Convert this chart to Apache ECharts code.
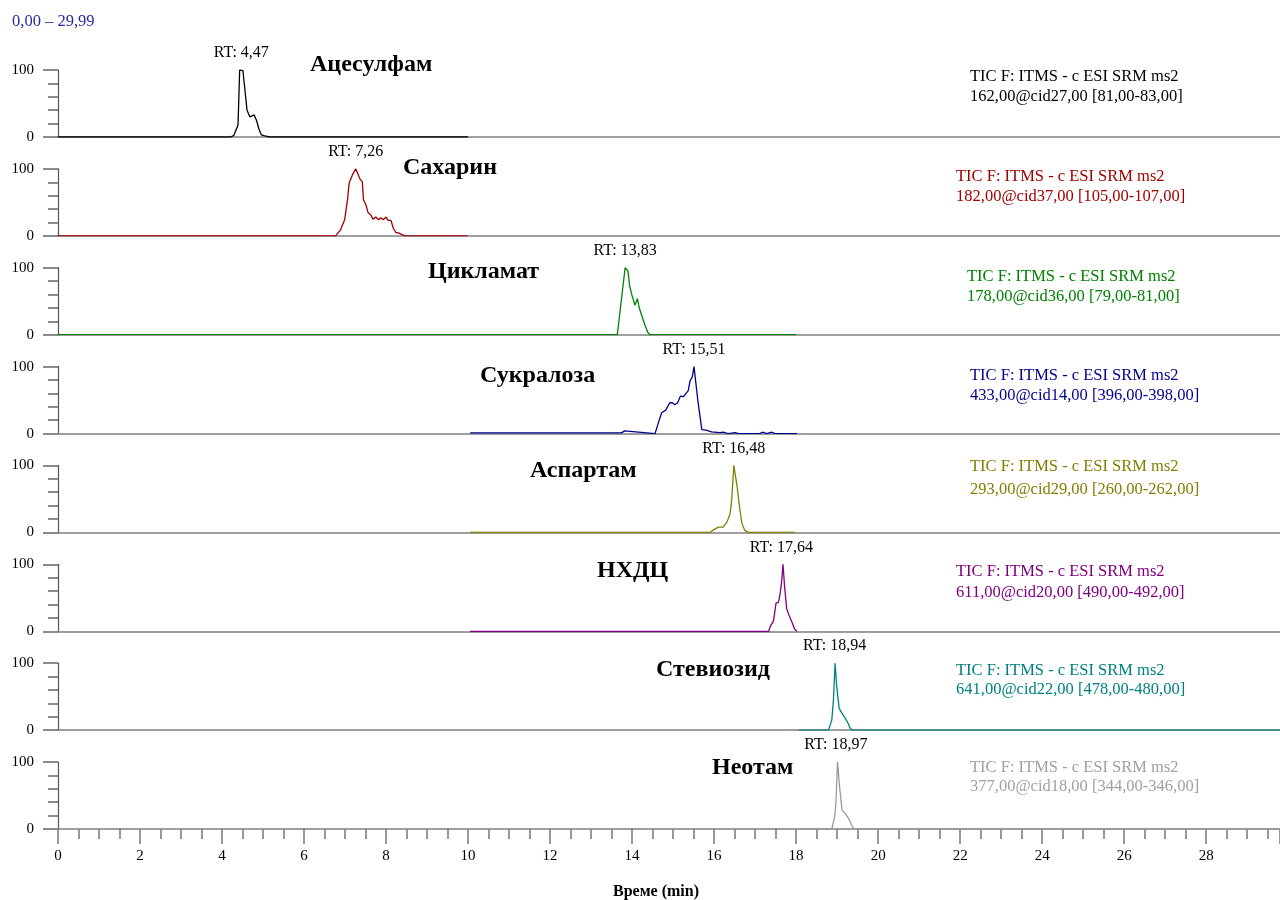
<!DOCTYPE html>
<html>
<head>
<meta charset="utf-8">
<script src="https://cdn.jsdelivr.net/npm/echarts@6/dist/echarts.min.js"></script>
<style>
html,body{margin:0;padding:0;background:#fff;}
#chart{width:1280px;height:900px;}
</style>
</head>
<body>
<div id="chart"></div>
<script>
// ---- data ----
const compoundNames = ['Ацесулфам','Сахарин','Цикламат','Сукралоза','Аспартам','НХДЦ','Стевиозид','Неотам'];
const rtValues = [4.47, 7.26, 13.83, 15.51, 16.48, 17.64, 18.94, 18.97];
const rtLabels = ['RT: 4,47','RT: 7,26','RT: 13,83','RT: 15,51','RT: 16,48','RT: 17,64','RT: 18,94','RT: 18,97'];
const infoLine1 = 'TIC F: ITMS - c ESI SRM ms2';
const infoLine2 = [
  '162,00@cid27,00 [81,00-83,00]',
  '182,00@cid37,00 [105,00-107,00]',
  '178,00@cid36,00 [79,00-81,00]',
  '433,00@cid14,00 [396,00-398,00]',
  '293,00@cid29,00 [260,00-262,00]',
  '611,00@cid20,00 [490,00-492,00]',
  '641,00@cid22,00 [478,00-480,00]',
  '377,00@cid18,00 [344,00-346,00]'
];
const xTickLabels = [0,2,4,6,8,10,12,14,16,18,20,22,24,26,28];
const yTickLabels = [0,100];
const rangeText = '0,00 – 29,99';
const xTitle = 'Време (min)';

const acesulfame = [[0,0],[4.21,0],[4.29,2.5],[4.33,4],[4.39,18],[4.43,100],[4.51,99],[4.55,75],[4.61,40],[4.68,30],[4.78,33],[4.84,25],[4.90,12],[4.96,3],[5.02,2],[5.10,1],[5.17,0],[10,0]];
const saccharin = [[0,0],[6.77,0],[6.89,9],[6.99,24],[7.06,54],[7.10,79],[7.18,91],[7.26,100],[7.31,93],[7.37,84],[7.42,81],[7.45,54],[7.51,46],[7.56,35],[7.63,31],[7.68,25],[7.75,28],[7.82,24],[7.87,27],[7.93,24],[8.0,28],[8.05,23],[8.12,23],[8.18,11],[8.24,5],[8.32,4],[8.40,1.5],[8.48,0],[9.99,0]];
const cyclamate = [[0,0],[13.64,0],[13.74,53],[13.83,100],[13.90,95],[13.94,73],[14.0,58],[14.07,44],[14.13,54],[14.17,41],[14.25,26],[14.31,15],[14.38,4],[14.43,0],[18.0,0]];
const sucralose = [[10.05,1],[13.74,1],[13.82,4],[14.56,0],[14.64,16],[14.72,31],[14.82,35],[14.92,46],[14.98,46],[15.04,43],[15.11,46],[15.18,56],[15.25,55],[15.33,61],[15.37,64],[15.41,78],[15.47,85],[15.51,100],[15.60,51],[15.70,6],[15.80,5],[15.86,4],[15.94,2.5],[16.14,1.5],[16.22,2],[16.34,0],[16.51,1.5],[16.60,0],[17.0,0],[17.04,2],[17.1,0],[17.2,2],[17.28,0],[17.41,2],[17.49,0],[18.02,0]];
const aspartame = [[10.05,0],[15.90,0],[15.98,3.5],[16.10,8],[16.22,8],[16.31,15],[16.39,28],[16.43,49],[16.46,79],[16.48,100],[16.51,100],[16.56,69],[16.62,38],[16.68,13],[16.75,3],[16.84,0],[17.97,0]];
const nhdc = [[10.05,0],[17.33,0],[17.37,7],[17.45,16],[17.51,42],[17.57,43.5],[17.61,56],[17.65,76],[17.68,100],[17.72,66],[17.77,33.5],[17.83,23.5],[17.90,13.5],[17.96,3.5],[18.02,0]];
const stevioside = [[18.06,0],[18.79,0],[18.87,15],[18.91,45],[18.95,100],[18.99,65],[19.05,32.5],[19.12,25],[19.20,17.5],[19.27,10],[19.32,2.5],[19.38,0],[29.99,0]];
const neotame = [[18.10,0],[18.87,0],[18.94,18],[18.97,38],[19.01,100],[19.06,63],[19.12,28],[19.20,23],[19.28,16],[19.35,6],[19.40,1],[19.46,0],[29.99,0]];
const seriesData = [acesulfame, saccharin, cyclamate, sucralose, aspartame, nhdc, stevioside, neotame];

// ---- styles / layout ----
const colors = ['#000000','#a00000','#008000','#000090','#808000','#800080','#008080','#9a9a9a'];
const textColors = ['#000000','#a00000','#008000','#000090','#808000','#800080','#008080','#a0a0a0'];
const FONT = '"Liberation Serif", "Times New Roman", serif';
const gridLeft = 58, gridWidth = 1222, gridTop0 = 70, gridStep = 98.86, gridH = 67;
const xMaxVisible = 29.8;
const namePos = [[310,65],[403,168],[428,272],[480,376],[530,471],[597,571],[656,670],[712,768]];
const infoPos = [[970,77,97],[956,177,197],[967,277,297],[970,376,396],[970,467,490],[956,572,593],[956,671,690],[970,768,787]];

const grids = [], xAxes = [], yAxes = [], series = [], graphics = [];
for (let i = 0; i < 8; i++) {
  const last = i === 7;
  grids.push({left: gridLeft, width: gridWidth, top: gridTop0 + i * gridStep, height: gridH});
  xAxes.push({
    type: 'value', gridIndex: i, min: 0, max: xMaxVisible, interval: 2,
    axisLine: {show: true, lineStyle: {color: '#808080', width: 1.5}},
    axisTick: {show: last, length: 15, lineStyle: {color: '#777', width: 1.5}},
    minorTick: {show: last, splitNumber: 4, length: 10, lineStyle: {color: '#777', width: 1.5}},
    axisLabel: {show: last, margin: 20, color: '#000', fontSize: 15, fontFamily: FONT, showMaxLabel: false,
      formatter: v => (xTickLabels.indexOf(v) >= 0 ? String(v) : '')},
    splitLine: {show: false}, minorSplitLine: {show: false}
  });
  yAxes.push({
    type: 'value', gridIndex: i, min: 0, max: 100, interval: 100,
    axisLine: {show: true, lineStyle: {color: '#555', width: 1.2}},
    axisTick: {show: true, length: 15, lineStyle: {color: '#666', width: 1.5}},
    minorTick: {show: true, splitNumber: 5, length: 10, lineStyle: {color: '#666', width: 1.5}},
    axisLabel: {show: true, margin: 24, color: '#000', fontSize: 15, fontFamily: FONT,
      formatter: v => (yTickLabels.indexOf(v) >= 0 ? String(v) : '')},
    splitLine: {show: false}, minorSplitLine: {show: false}
  });
  series.push({
    type: 'line', xAxisIndex: i, yAxisIndex: i, data: seriesData[i],
    symbol: 'none', showSymbol: false, silent: true, clip: true,
    lineStyle: {color: colors[i], width: 1.3},
    markPoint: {
      symbol: 'circle', symbolSize: 0, silent: true,
      data: [{name: rtLabels[i], coord: [rtValues[i], 100]}],
      label: {show: true, position: 'top', distance: 9, formatter: '{b}', color: '#000', fontSize: 16, fontFamily: FONT}
    }
  });
  graphics.push({
    type: 'text', x: namePos[i][0], y: namePos[i][1], silent: true,
    style: {text: compoundNames[i], fill: '#000', font: 'bold 24px ' + FONT, align: 'left', verticalAlign: 'middle'}
  });
  graphics.push({
    type: 'text', x: infoPos[i][0], y: infoPos[i][1], silent: true,
    style: {text: infoLine1, fill: textColors[i], font: '16.5px ' + FONT, align: 'left', verticalAlign: 'middle'}
  });
  graphics.push({
    type: 'text', x: infoPos[i][0], y: infoPos[i][2], silent: true,
    style: {text: infoLine2[i], fill: textColors[i], font: '16.5px ' + FONT, align: 'left', verticalAlign: 'middle'}
  });
}
graphics.push({type: 'text', x: 12, y: 22, silent: true,
  style: {text: rangeText, fill: '#2a2aa0', font: '16.5px ' + FONT, align: 'left', verticalAlign: 'middle'}});
graphics.push({type: 'text', x: 656, y: 892, silent: true,
  style: {text: xTitle, fill: '#000', font: 'bold 16px ' + FONT, align: 'center', verticalAlign: 'middle'}});

const chart = echarts.init(document.getElementById('chart'), null, {renderer: 'canvas'});
chart.setOption({
  animation: false,
  backgroundColor: '#fff',
  grid: grids, xAxis: xAxes, yAxis: yAxes, series: series, graphic: graphics
});
</script>
</body>
</html>
